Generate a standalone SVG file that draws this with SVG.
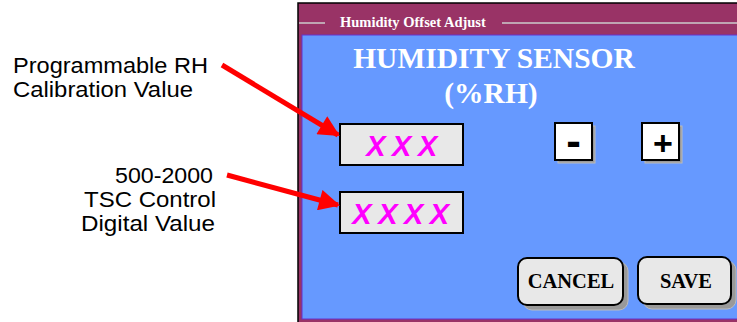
<svg xmlns="http://www.w3.org/2000/svg" width="737" height="322" viewBox="0 0 737 322">
<defs>
<style>
.lbl{font-family:"Liberation Sans",Arial,sans-serif;font-size:22.5px;fill:#000}
.ttl{font-family:"Liberation Serif","Times New Roman",serif;font-weight:bold;fill:#fff}
.fld{fill:#e8e8e8;stroke:#000;stroke-width:2}
.xv{font-family:"Liberation Sans",Arial,sans-serif;font-weight:bold;font-style:italic;font-size:29px;fill:#ff00ff;letter-spacing:6.5px}
.sq{fill:#fff;stroke:#000;stroke-width:2}
.sh{fill:#999;stroke:#bbb;stroke-width:1}
.btn{fill:#e8e8e8;stroke:#000;stroke-width:2}
.bt{font-family:"Liberation Serif","Times New Roman",serif;font-weight:bold;font-size:20.5px;fill:#000;text-anchor:middle}
.pm{font-family:"Liberation Sans",Arial,sans-serif;font-weight:bold;fill:#000;text-anchor:middle}
.arr{stroke:#ff0000;stroke-width:5;fill:none}
</style>
<marker id="ah" viewBox="0 0 10 10" refX="9" refY="5" markerWidth="4.4" markerHeight="4.2" markerUnits="strokeWidth" orient="auto">
<path d="M0,0 L10,5 L0,10 z" fill="#ff0000"/>
</marker>
</defs>
<rect width="737" height="322" fill="#fff"/>
<g id="panel">
<rect x="298" y="3" width="442" height="322" fill="#993366" stroke="#000" stroke-width="1.5"/>
<rect x="302" y="35" width="440" height="284" fill="#6699ff" stroke="#6633cc" stroke-width="1"/>
<line x1="299" y1="23" x2="325" y2="23" stroke="#cccccc" stroke-width="1.5"/>
<line x1="502" y1="23" x2="737" y2="23" stroke="#cccccc" stroke-width="1.5"/>
<text class="ttl" x="340" y="27" font-size="14.5">Humidity Offset Adjust</text>
<text class="ttl" x="494" y="68" font-size="29.5" text-anchor="middle">HUMIDITY SENSOR</text>
<text class="ttl" x="491" y="103" font-size="29.5" text-anchor="middle">(%RH)</text>
</g>
<g id="field-rh">
<rect class="fld" x="340" y="124" width="123" height="41"/>
<text class="xv" x="405" y="156" text-anchor="middle">XXX</text>
</g>
<g id="field-tsc">
<rect class="fld" x="340" y="192" width="123" height="41"/>
<text class="xv" x="404" y="224" text-anchor="middle">XXXX</text>
</g>
<g id="btn-minus">
<rect class="sh" x="558" y="126" width="37" height="37"/>
<rect class="sq" x="555" y="123" width="37" height="37"/>
<text class="pm" x="573.5" y="156" font-size="44">-</text>
</g>
<g id="btn-plus">
<rect class="sh" x="645" y="126" width="37" height="37"/>
<rect class="sq" x="642" y="123" width="37" height="37"/>
<text class="pm" x="663" y="155" font-size="34">+</text>
</g>
<g id="btn-cancel">
<rect class="sh" x="523" y="262" width="105" height="48" rx="9"/>
<rect class="btn" x="518" y="258" width="105" height="47" rx="9"/>
<text class="bt" x="571" y="288">CANCEL</text>
</g>
<g id="btn-save">
<rect class="sh" x="643" y="261" width="93" height="48" rx="9"/>
<rect class="btn" x="638" y="257" width="93" height="47" rx="9"/>
<text class="bt" x="686" y="288">SAVE</text>
</g>
<g id="label-rh">
<text class="lbl" x="13" y="73" textLength="195" lengthAdjust="spacingAndGlyphs">Programmable RH</text>
<text class="lbl" x="13" y="97" textLength="180" lengthAdjust="spacingAndGlyphs">Calibration Value</text>
</g>
<g id="label-tsc">
<text class="lbl" x="115" y="183" textLength="98" lengthAdjust="spacingAndGlyphs">500-2000</text>
<text class="lbl" x="84" y="207" textLength="132" lengthAdjust="spacingAndGlyphs">TSC Control</text>
<text class="lbl" x="81" y="231" textLength="134" lengthAdjust="spacingAndGlyphs">Digital Value</text>
</g>
<g id="connectors">
<line class="arr" x1="222" y1="65" x2="338" y2="135" marker-end="url(#ah)"/>
<line class="arr" x1="227" y1="175" x2="338" y2="205" marker-end="url(#ah)"/>
</g>
</svg>
